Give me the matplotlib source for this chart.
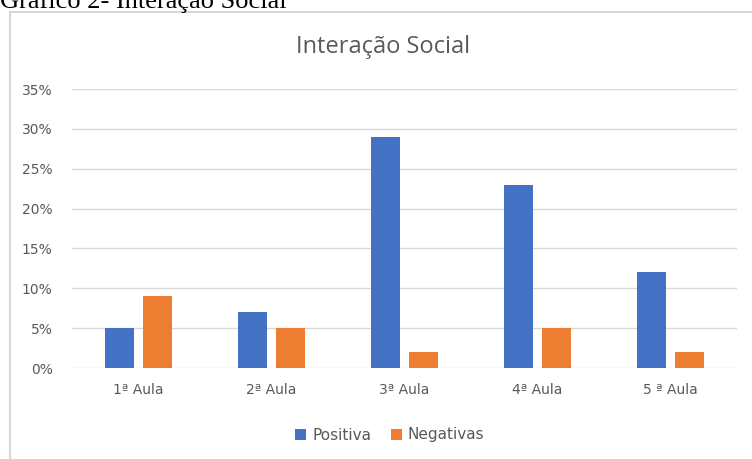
import matplotlib.pyplot as plt
import matplotlib.patches as mpatches
import numpy as np

aulas = ['1ª Aula', '2ª Aula', '3ª Aula', '4ª Aula', '5 ª Aula']
positiva = [0.05, 0.07, 0.29, 0.23, 0.12]
negativas = [0.09, 0.05, 0.02, 0.05, 0.02]
yticks = [0, 0.05, 0.10, 0.15, 0.20, 0.25, 0.30, 0.35]

azul = '#4472C4'
laranja = '#ED7D31'
cinza = '#595959'

fig = plt.figure(figsize=(7.52, 4.59), dpi=100)

# legenda do documento (cortada no topo) e moldura do grafico
fig.text(0.0, 1 - 8 / 459, 'Gráfico 2- Interação Social', family='Liberation Serif',
         fontsize=19, color='black', va='baseline', ha='left')
fig.patches.append(mpatches.Rectangle((10 / 752, -0.05), 1.0, 1 - 12 / 459 + 0.05,
                                      transform=fig.transFigure, fill=False,
                                      edgecolor='#d0d0d0', linewidth=1.2))

ax = fig.add_axes([72 / 752, 1 - 368 / 459, 665 / 752, 279 / 459])
x = np.arange(len(aulas))
w = 0.225
off = 0.143
ax.bar(x - off, positiva, w, color=azul, label='Positiva', zorder=3)
ax.bar(x + off, negativas, w, color=laranja, label='Negativas', zorder=3)

ax.set_xlim(-0.5, len(aulas) - 0.5)
ax.set_ylim(0, 0.35)
ax.set_yticks(yticks)
ax.set_yticklabels([f'{int(round(v * 100))}%' for v in yticks])
ax.set_xticks(x)
ax.set_xticklabels(aulas)
ax.grid(axis='y', color='#d9d9d9', linewidth=1, zorder=0)
for s in ax.spines.values():
    s.set_visible(False)
ax.tick_params(length=0, colors=cinza, labelsize=10)
ax.tick_params(axis='x', pad=11)
ax.tick_params(axis='y', pad=14)

fig.text(383 / 752, 1 - 47 / 459, 'Interação Social', family='Open Sans', fontsize=17,
         color=cinza, ha='center', va='center')

ax.legend(loc='center', bbox_to_anchor=(390 / 752, 1 - 435 / 459), bbox_transform=fig.transFigure,
          ncol=2, frameon=False, fontsize=11, labelcolor=cinza, handlelength=0.7,
          handleheight=0.7, handletextpad=0.4, columnspacing=1.3)

fig.savefig('out.png', dpi=100)
